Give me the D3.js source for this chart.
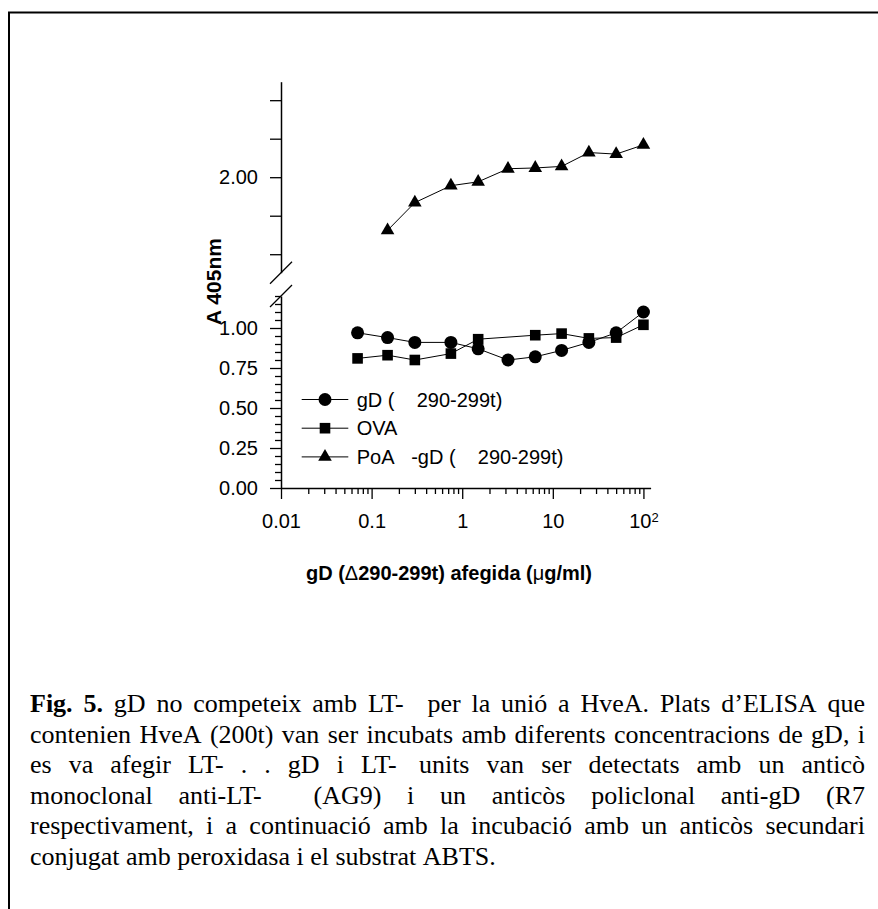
<!DOCTYPE html>
<html>
<head>
<meta charset="utf-8">
<script src="https://cdn.jsdelivr.net/npm/d3@7"></script>
<style>
    body { margin: 0; background: #fff; }
    svg { display: block; }
    text { white-space: pre; }
</style>
</head>
<body>
<div id="chart"></div>
<script>
// concentration of gD added (ug/ml)
const concentrations = [0.07, 0.15, 0.3, 0.75, 1.5, 3.2, 6.4, 12.5, 25, 50, 100];
// A405 values per series (null = no point at that concentration)
const gdValues  = [0.97, 0.94, 0.91, 0.91, 0.87, 0.80, 0.82, 0.86, 0.91, 0.97, 1.10];
const ovaValues = [0.81, 0.83, 0.80, 0.84, 0.93, null, 0.955, 0.965, 0.935, 0.94, 1.02];
const poaValues = [null, 1.655, 1.835, 1.945, 1.97, 2.055, 2.06, 2.07, 2.16, 2.15, 2.21];

const seriesNames = ["gD (\u00a0\u00a0\u00a0\u00a0290-299t)", "OVA", "PoA\u00a0\u00a0\u00a0-gD (\u00a0\u00a0\u00a0\u00a0290-299t)"];

const xTicks = [0.01, 0.1, 1, 10, 100];
const xTickLabels = ["0.01", "0.1", "1", "10", "10"];
const lowerTicks = [0, 0.25, 0.5, 0.75, 1.0];
const upperTicks = [1.5, 1.75, 2.0, 2.25, 2.5];
const upperLabelled = [2.0];

const yTitle = "A 405nm";
const xTitleParts = [["gD (", true], ["\u0394", false], ["290-299t) afegida (", true], ["\u03bc", false], ["g/ml)", true]];

const captionLines = [
    "Fig. 5. gD no competeix amb LT-\u2002 per la unió a HveA. Plats d\u2019ELISA que",
    "contenien HveA (200t) van ser incubats amb diferents concentracions de gD, i",
    "es va afegir LT- . . gD i LT-\u2009 units van ser detectats amb un anticò",
    "monoclonal anti-LT-\u2003 (AG9) i un anticòs policlonal anti-gD (R7",
    "respectivament, i a continuació amb la incubació amb un anticòs secundari",
    "conjugat amb peroxidasa i el substrat ABTS."
];

let width = 878, height = 909;
let sans = "'Liberation Sans', Arial, sans-serif";
let serif = "'Liberation Serif', 'Times New Roman', serif";

let svg = d3.select("#chart").append("svg")
    .attr("width", width)
    .attr("height", height);

// page frame (top + left rules)
svg.append("path")
    .attr("d", "M9,909 V12.5 H878")
    .attr("fill", "none")
    .attr("stroke", "#000")
    .attr("stroke-width", 2);

// scales
let x = d3.scaleLog().domain([0.01, 120]).range([281, 650.6]);
let yLower = d3.scaleLinear().domain([0, 1.2]).range([488, 296]);
let yUpper = d3.scaleLinear().domain([1.38, 2.62]).range([272.7, 81.7]);

// minor ticks
let xMinor = [];
[0.01, 0.1, 1, 10].forEach(e => { for (let k = 2; k <= 9; k++) xMinor.push(k * e); });
let lowerMinor = d3.range(0, 25).map(i => +(i * 0.05).toFixed(2)).filter(v => !lowerTicks.includes(v));

function styleAxis(g) {
    g.attr("font-family", sans).attr("font-size", 20);
    g.selectAll("path.domain").attr("stroke-width", 1.5);
    g.selectAll(".tick line").attr("stroke-width", 1.3);
    g.selectAll(".tick text").attr("fill", "#000");
}

// x axis
let xAxisG = svg.append("g")
    .attr("transform", "translate(0,488)")
    .call(d3.axisBottom(x).tickValues(xTicks).tickSize(11).tickSizeOuter(0).tickPadding(15)
        .tickFormat((d, i) => xTickLabels[i]))
    .call(styleAxis);
xAxisG.selectAll(".tick text").filter(d => d === 100)
    .append("tspan").attr("dy", "-0.45em").attr("font-size", 13).text("2");

svg.append("g")
    .attr("transform", "translate(0,488)")
    .call(d3.axisBottom(x).tickValues(xMinor).tickSize(6).tickFormat(""))
    .call(g => g.select(".domain").remove())
    .call(styleAxis);

// lower y axis
svg.append("g")
    .attr("transform", "translate(281,0)")
    .call(d3.axisLeft(yLower).tickValues(lowerTicks).tickSize(11).tickSizeOuter(0).tickPadding(12)
        .tickFormat(d3.format(".2f")))
    .call(styleAxis);
svg.append("g")
    .attr("transform", "translate(281,0)")
    .call(d3.axisLeft(yLower).tickValues(lowerMinor).tickSize(6).tickFormat(""))
    .call(g => g.select(".domain").remove())
    .call(styleAxis);

// upper y axis
svg.append("g")
    .attr("transform", "translate(281,0)")
    .call(d3.axisLeft(yUpper).tickValues(upperTicks).tickSize(11).tickSizeOuter(0).tickPadding(12)
        .tickFormat(d => upperLabelled.includes(d) ? d3.format(".2f")(d) : ""))
    .call(styleAxis);

// axis break marks
[yUpper(yUpper.domain()[0]), yLower(yLower.domain()[1])].forEach(yb => {
    svg.append("line")
        .attr("x1", 281 - 11).attr("y1", yb + 11)
        .attr("x2", 281 + 11).attr("y2", yb - 11)
        .attr("stroke", "#000").attr("stroke-width", 1.3);
});

// series
let series = [
    {name: seriesNames[0], values: gdValues, y: yLower, symbol: "circle"},
    {name: seriesNames[1], values: ovaValues, y: yLower, symbol: "square"},
    {name: seriesNames[2], values: poaValues, y: yUpper, symbol: "triangle"}
];

function drawMarker(g, type) {
    if (type === "circle") {
        g.append("circle").attr("r", 6.5).attr("fill", "#000");
    } else if (type === "square") {
        g.append("rect").attr("x", -5.3).attr("y", -5.3).attr("width", 10.6).attr("height", 10.6).attr("fill", "#000");
    } else {
        g.append("path").attr("d", d3.symbol(d3.symbolTriangle, 80)()).attr("fill", "#000");
    }
}

series.forEach(s => {
    let pts = concentrations.map((c, i) => ({c: c, v: s.values[i]})).filter(d => d.v !== null);
    let line = d3.line().x(d => x(d.c)).y(d => s.y(d.v));
    svg.append("path")
        .datum(pts)
        .attr("d", line)
        .attr("fill", "none")
        .attr("stroke", "#000")
        .attr("stroke-width", 1);
    svg.selectAll(null)
        .data(pts)
        .enter()
        .append("g")
        .attr("transform", d => "translate(" + x(d.c) + "," + s.y(d.v) + ")")
        .each(function () { drawMarker(d3.select(this), s.symbol); });
});

// legend
let legend = svg.append("g").attr("font-family", sans).attr("font-size", 20);
series.forEach((s, i) => {
    let ly = 399.5 + i * 28.7;
    legend.append("line")
        .attr("x1", 301.7).attr("x2", 348.3)
        .attr("y1", ly).attr("y2", ly)
        .attr("stroke", "#000").attr("stroke-width", 1);
    let m = legend.append("g").attr("transform", "translate(325," + ly + ")");
    drawMarker(m, s.symbol);
    legend.append("text")
        .attr("x", 356.7).attr("y", ly + 7)
        .text(s.name);
});

// axis titles
svg.append("text")
    .attr("transform", "translate(221,281.5) rotate(-90)")
    .attr("text-anchor", "middle")
    .attr("font-family", sans)
    .attr("font-size", 21)
    .attr("font-weight", "bold")
    .text(yTitle);

let xTitle = svg.append("text")
    .attr("x", 449).attr("y", 580)
    .attr("text-anchor", "middle")
    .attr("font-family", sans)
    .attr("font-size", 20);
xTitleParts.forEach(p => {
    xTitle.append("tspan").attr("font-weight", p[1] ? "bold" : "normal").text(p[0]);
});

// caption, justified by hand
let capLeft = 30, capRight = 865, capTop = 712, capStep = 30.5, capSize = 26;
captionLines.forEach((lineText, i) => {
    let words = lineText.split(" ");
    let ly = capTop + i * capStep;
    let g = svg.append("g").attr("font-family", serif).attr("font-size", capSize);
    let nodes = words.map((w, j) => g.append("text")
        .attr("y", ly)
        .attr("font-weight", (i === 0 && j < 2) ? "bold" : null)
        .text(w));
    let widths = nodes.map(n => n.node().getComputedTextLength());
    let gap = (i === captionLines.length - 1)
        ? capSize * 0.25
        : (capRight - capLeft - d3.sum(widths)) / (words.length - 1);
    let cx = capLeft;
    nodes.forEach((n, j) => {
        n.attr("x", cx);
        cx += widths[j] + gap;
    });
});
</script>
</body>
</html>
